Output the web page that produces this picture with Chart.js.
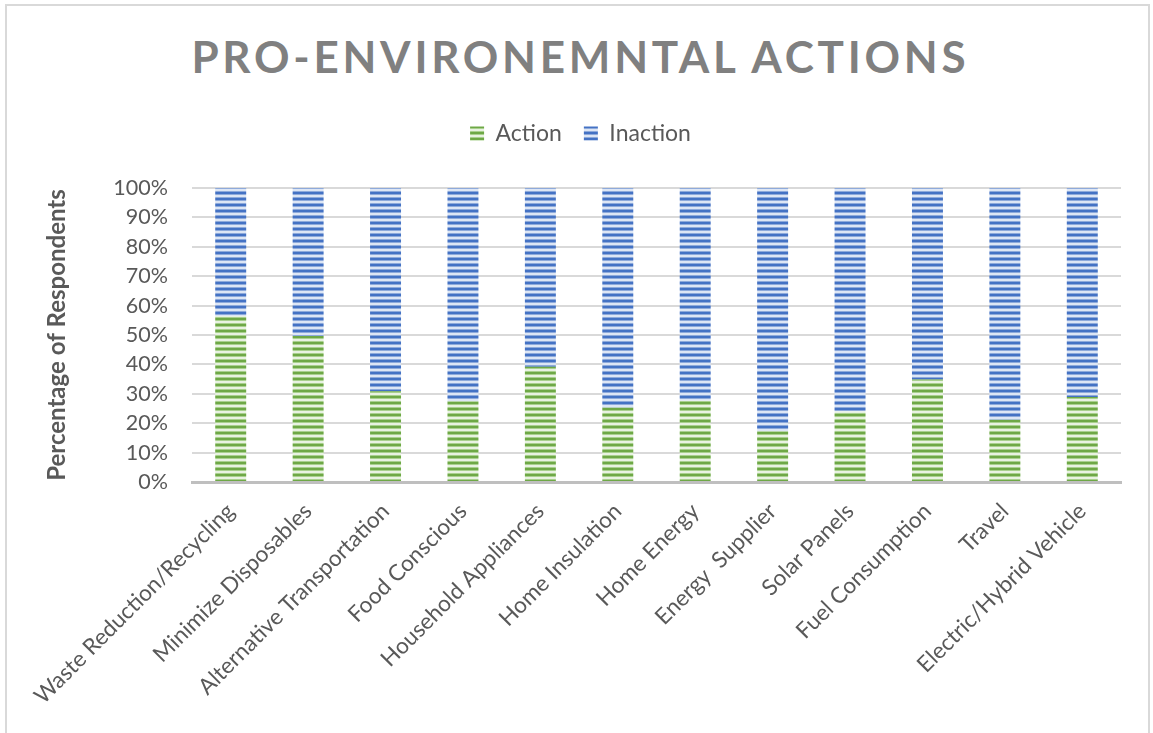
<!DOCTYPE html>
<html>
<head>
<meta charset="utf-8">
<title>Pro-Environmental Actions</title>
<script src="https://cdn.jsdelivr.net/npm/chart.js@4"></script>
<style>
    html, body { margin: 0; padding: 0; background: #fff; }
    body { width: 1153px; height: 733px; position: relative; overflow: hidden; }
    .cadre {
        position: absolute; left: 5px; top: 4px; width: 1145px; height: 760px;
        border: 2px solid #d9d9d9; box-sizing: border-box;
    }
    .titre {
        position: absolute; left: 0; top: 34px; width: 1153px;
        font: bold 44px Lato, sans-serif; line-height: 44px;
        color: #808080; text-align: center; white-space: nowrap;
    }
    #graphique { position: absolute; left: 0; top: 0; }
</style>
</head>
<body>
<div class="cadre"></div>
<div class="titre" id="titre">PRO-ENVIRONEMNTAL ACTIONS</div>
<canvas id="graphique" width="1153" height="733"></canvas>
<script>
// ── Data ─────────────────────────────────────────────────
const categories = [
    'Waste Reduction/Recycling', 'Minimize Disposables', 'Alternative Transportation',
    'Food Conscious', 'Household Appliances', 'Home Insulation', 'Home Energy',
    'Energy  Supplier', 'Solar Panels', 'Fuel Consumption', 'Travel',
    'Electric/Hybrid Vehicle'
];
const action   = [56.5, 49.7, 30.9, 27.5, 39.2, 25.3, 27.6, 17.3, 24.0, 34.9, 21.2, 28.9];
const inaction = [43.5, 50.3, 69.1, 72.5, 60.8, 74.7, 72.4, 82.7, 76.0, 65.1, 78.8, 71.1];
const yTicks   = [0, 10, 20, 30, 40, 50, 60, 70, 80, 90, 100];

// ── Title letter spacing (spans ~777px in the reference) ──
(function () {
    const el = document.getElementById('titre');
    const c = document.createElement('canvas').getContext('2d');
    c.font = 'bold 44px Lato';
    const txt = el.textContent;
    const w = c.measureText(txt).width;
    const ls = (777 - w) / (txt.length - 1);
    el.style.letterSpacing = ls + 'px';
    el.style.paddingLeft = (ls + 4) + 'px';
    el.style.boxSizing = 'border-box';
})();

// ── Striped fills (Excel "narrow horizontal" pattern) ─────
function rayures(fonce, moyen, clair) {
    const c = document.createElement('canvas');
    c.width = 4; c.height = 6;
    const g = c.getContext('2d');
    const rangs = [fonce, fonce, moyen, clair, clair, moyen];
    rangs.forEach((col, i) => { g.fillStyle = col; g.fillRect(0, i, 4, 1); });
    return g.createPattern(c, 'repeat');
}
const ctx = document.getElementById('graphique').getContext('2d');
const vert = rayures('#6ea846', '#a9d08e', '#e8f2e1');
const bleu = rayures('#4472c4', '#8eaadb', '#dde6f5');

const texte = '#595959';

// legend height tweak so the plot top lands where Excel puts it
const hauteurLegende = {
    id: 'hauteurLegende',
    beforeLayout(chart) {
        const lg = chart.legend;
        if (lg && !lg._patch) {
            const fit = lg.fit;
            lg.fit = function () { fit.call(this); this.height = 88; };
            lg._patch = true;
        }
    }
};

new Chart(ctx, {
    type: 'bar',
    data: {
        labels: categories,
        datasets: [
            { label: 'Action',   data: action,   backgroundColor: vert, borderWidth: 0 },
            { label: 'Inaction', data: inaction, backgroundColor: bleu, borderWidth: 0 }
        ]
    },
    options: {
        responsive: false,
        animation: false,
        barPercentage: 0.4,
        categoryPercentage: 1.0,
        layout: { padding: { left: 40, right: 32, top: 100, bottom: 0 } },
        plugins: {
            legend: {
                position: 'top',
                labels: {
                    boxWidth: 14, boxHeight: 14, padding: 22,
                    color: texte, font: { family: 'Lato', size: 23 }
                }
            },
            tooltip: { enabled: false }
        },
        scales: {
            x: {
                stacked: true,
                grid: { display: false },
                border: { display: true, color: '#bfbfbf', width: 3 },
                ticks: {
                    autoSkip: false, maxRotation: 45, minRotation: 45,
                    padding: 8, color: texte, font: { family: 'Lato', size: 22.5 }
                },
                afterFit: s => { s.height = 251; }
            },
            y: {
                stacked: true,
                min: 0, max: 100,
                afterBuildTicks: s => { s.ticks = yTicks.map(v => ({ value: v })); },
                ticks: {
                    padding: 24, color: texte, font: { family: 'Lato', size: 21.5 },
                    callback: v => v + '%'
                },
                grid: { color: '#d9d9d9', lineWidth: 2, drawTicks: false },
                border: { display: false },
                title: {
                    display: true, text: 'Percentage of Respondents',
                    color: texte, font: { family: 'Lato', size: 24, weight: 'bold' },
                    padding: { top: 3, bottom: 0 }
                },
                afterFit: s => { s.width = 152; }
            }
        }
    },
    plugins: [hauteurLegende]
});
</script>
</body>
</html>
